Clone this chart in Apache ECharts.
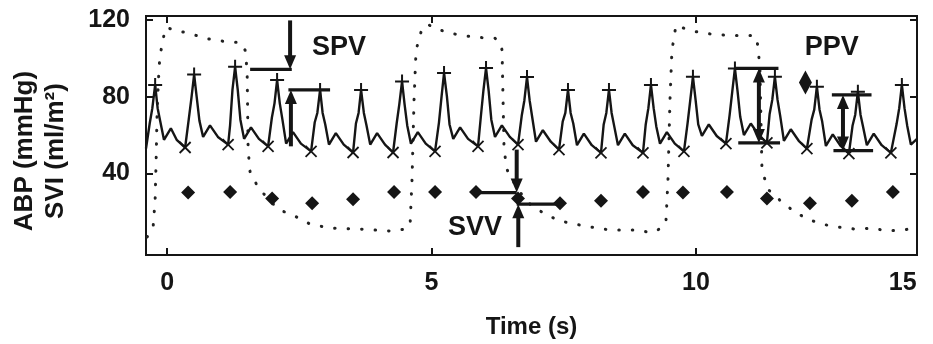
<!DOCTYPE html>
<html>
<head>
<meta charset="utf-8">
<script src="https://cdn.jsdelivr.net/npm/echarts@6/dist/echarts.min.js"></script>
<style>
  html, body { margin: 0; padding: 0; background: #fff; }
  #chart { width: 933px; height: 344px; }
</style>
</head>
<body>
<div id="chart"></div>
<script>
// Time axis (s) and pressure / SVI axis ranges
const X_MIN = -0.4, X_MAX = 14.18;
const Y_MIN = -2.5, Y_MAX = 122;

// Tick marks and labels
const xTickValues = [0, 5, 10];
const xTickLabels = ['0', '5', '10', '15'];
const xLabelValues = [0, 5, 10, 13.91];
const yTickValues = [40, 80, 120];

// Arterial blood pressure waveform [time s, mmHg]
const abpWave = [
  [-0.40, 53], [-0.33, 66], [-0.28, 74], [-0.227, 86.1], [-0.18, 74], [-0.13, 67], [-0.06, 57.5], [0.07, 63.5], [0.18, 57.5], [0.34, 53.5],
  [0.41, 68.5], [0.46, 79.5], [0.51, 91.5], [0.56, 79.5], [0.61, 67.5], [0.68, 59], [0.81, 65], [0.96, 59], [1.153, 55],
  [1.19, 65], [1.235, 83.5], [1.285, 95.5], [1.335, 83.5], [1.385, 68], [1.455, 58], [1.585, 64], [1.735, 58], [1.909, 54.1],
  [1.98, 69], [2.03, 76.5], [2.079, 88.6], [2.13, 76.5], [2.18, 68], [2.25, 55.5], [2.38, 61.5], [2.53, 55.5], [2.722, 51.5],
  [2.79, 66.5], [2.84, 71.5], [2.892, 83.5], [2.94, 71.5], [2.99, 65.5], [3.06, 55], [3.19, 61], [3.34, 55], [3.516, 50.9],
  [3.57, 66], [3.62, 71.5], [3.667, 83.5], [3.72, 71.5], [3.77, 65], [3.84, 55], [3.97, 61], [4.12, 55], [4.272, 50.9],
  [4.34, 66], [4.39, 76], [4.442, 87.9], [4.49, 76], [4.54, 65], [4.61, 55.5], [4.74, 61.5], [4.89, 55.5], [5.066, 51.5],
  [5.14, 66.5], [5.19, 80.3], [5.236, 92.3], [5.29, 80.3], [5.34, 65.5], [5.41, 58], [5.54, 64], [5.69, 58], [5.879, 54.1],
  [5.93, 69], [5.98, 83], [6.03, 94.9], [6.08, 83], [6.13, 68], [6.20, 59], [6.33, 65], [6.48, 59], [6.635, 55],
  [6.705, 70], [6.755, 78], [6.805, 90.2], [6.855, 78], [6.905, 69], [6.975, 56.5], [7.105, 62.5], [7.255, 56.5], [7.41, 52.4],
  [7.48, 67], [7.53, 71.5], [7.58, 83.5], [7.63, 71.5], [7.68, 66], [7.75, 54.7], [7.88, 60.7], [8.03, 54.7], [8.204, 50.7],
  [8.255, 65.5], [8.305, 71.5], [8.355, 83.5], [8.405, 71.5], [8.455, 64.5], [8.525, 54.7], [8.655, 60.7], [8.805, 54.7], [8.998, 50.7],
  [9.05, 65.5], [9.10, 74], [9.149, 86.1], [9.20, 74], [9.25, 64.5], [9.32, 55.5], [9.45, 61.5], [9.60, 55.5], [9.773, 51.5],
  [9.843, 66.5], [9.893, 78.3], [9.943, 90.3], [9.993, 78.3], [10.043, 65.5], [10.113, 59.5], [10.243, 65.5], [10.393, 59.5], [10.567, 55.5],
  [10.637, 70.5], [10.687, 82.7], [10.737, 94.7], [10.787, 82.7], [10.837, 69.5], [10.907, 60], [11.037, 66], [11.187, 60], [11.342, 55.9],
  [11.393, 71], [11.443, 78.3], [11.493, 90.3], [11.543, 78.3], [11.593, 70], [11.663, 57], [11.793, 63], [11.943, 57], [12.098, 52.9],
  [12.187, 68], [12.237, 73.2], [12.287, 85.2], [12.337, 73.2], [12.387, 67], [12.457, 54.3], [12.587, 60.3], [12.737, 54.3], [12.892, 50.3],
  [12.962, 65], [13.012, 70.6], [13.062, 82.6], [13.112, 70.6], [13.162, 64], [13.232, 54.7], [13.362, 60.7], [13.512, 54.7], [13.686, 50.7],
  [13.794, 65.7], [13.844, 74], [13.894, 86.1], [13.944, 74], [13.994, 65], [14.064, 55], [14.18, 58]
];

// Beat-by-beat systolic peaks (+) and diastolic troughs (x)
const peakTime  = [-0.227, 0.51, 1.285, 2.079, 2.892, 3.667, 4.442, 5.236, 6.03, 6.805, 7.58, 8.355, 9.149, 9.943, 10.737, 11.493, 12.287, 13.062, 13.894];
const peakValue = [86.1, 91.5, 95.5, 88.6, 83.5, 83.5, 87.9, 92.3, 94.9, 90.2, 83.5, 83.5, 86.1, 90.3, 94.7, 90.3, 85.2, 82.6, 86.1];
const troughTime  = [0.34, 1.153, 1.909, 2.722, 3.516, 4.272, 5.066, 5.879, 6.635, 7.41, 8.204, 8.998, 9.773, 10.567, 11.342, 12.098, 12.892, 13.686];
const troughValue = [53.5, 55, 54.1, 51.5, 50.9, 50.9, 51.5, 54.1, 55, 52.4, 50.7, 50.7, 51.5, 55.5, 55.9, 52.9, 50.3, 50.7];

// Stroke volume index per beat (diamonds)
const sviTime  = [0.397, 1.191, 1.985, 2.741, 3.516, 4.291, 5.066, 5.841, 6.635, 7.429, 8.204, 8.998, 9.754, 10.586, 11.342, 12.155, 12.949, 13.724];
const sviValue = [30.0, 30.3, 26.9, 24.5, 26.5, 30.3, 30.3, 30.3, 26.9, 24.5, 25.7, 30.3, 30.0, 30.3, 26.9, 24.5, 25.7, 30.3];

// Single marker beside the PPV label
const extraMarkTime = [12.07];
const extraMarkValue = [87.3];

// Slow ventilation-driven wave (dotted)
const ventWave = [
  [-0.378, 6.9], [-0.265, 12.1], [-0.227, 26.5], [-0.208, 47.3], [-0.189, 73.1], [-0.151, 96.4], [-0.095, 108.3], [-0.019, 116.1],
  [0.151, 114.5], [0.435, 112.9], [0.718, 110.3], [1.191, 108.3], [1.380, 108.3], [1.474, 104.2], [1.512, 93.8], [1.531, 52.4],
  [1.569, 40.5], [1.720, 32.8], [1.947, 25.5], [2.136, 20.9], [2.420, 17.7], [2.703, 13.6], [3.081, 11.5], [3.648, 11.0],
  [4.216, 10.0], [4.499, 11.0], [4.594, 13.1], [4.631, 36.9], [4.669, 78.3], [4.707, 104.2], [4.820, 115.6], [4.934, 117.6],
  [5.066, 115.6], [5.350, 113.0], [5.822, 110.9], [6.200, 110.4], [6.295, 108.3], [6.333, 104.2], [6.371, 52.4], [6.427, 42.0],
  [6.522, 36.9], [6.673, 30.2], [6.862, 24.0], [7.146, 18.8], [7.429, 15.2], [7.902, 12.6], [8.374, 10.5], [8.941, 10.5],
  [9.130, 9.0], [9.357, 11.5], [9.433, 15.2], [9.471, 36.9], [9.509, 78.3], [9.546, 104.2], [9.622, 117.1], [9.887, 114.5],
  [10.170, 112.9], [10.643, 111.8], [11.115, 111.8], [11.172, 106.6], [11.210, 93.8], [11.248, 42.0], [11.361, 31.7], [11.588, 26.0],
  [11.871, 19.8], [12.155, 15.7], [12.533, 12.6], [13.006, 11.0], [13.384, 11.5], [13.573, 10.0], [13.951, 10.5], [14.178, 12.6]
];

// Variation annotations: [x1, y1, x2, y2, head at start, head at end]
const spvMarks = [
  [1.569, 94.2, 2.357, 94.2, 0, 0],
  [2.325, 119.7, 2.325, 94.2, 0, 1],
  [2.293, 83.5, 3.081, 83.5, 0, 0],
  [2.34, 54.1, 2.34, 83.5, 0, 1]
];
const svvMarks = [
  [5.82, 30.0, 6.61, 30.0, 0, 0],
  [6.61, 52.4, 6.61, 30.0, 0, 1],
  [6.61, 24.0, 7.49, 24.0, 0, 0],
  [6.64, 1.6, 6.64, 24.0, 0, 1]
];
const ppvMarks = [
  [10.74, 94.7, 11.56, 94.7, 0, 0],
  [10.80, 55.9, 11.59, 55.9, 0, 0],
  [11.19, 55.9, 11.19, 94.7, 1, 1],
  [12.57, 80.9, 13.32, 80.9, 0, 0],
  [12.60, 51.9, 13.35, 51.9, 0, 0],
  [12.78, 51.9, 12.78, 80.9, 1, 1]
];
const noteText = ['SPV', 'SVV', 'PPV'];
const noteTime = [3.25, 5.82, 12.57];
const noteValue = [105.7, 11.6, 105.7];

const INK = '#151515';
const FONT = '"Liberation Sans", Arial, Helvetica, sans-serif';

const zip = (a, b) => a.map((v, i) => [v, b[i]]);

function renderArrow(params, api) {
  const p1 = api.coord([api.value(0), api.value(1)]);
  const p2 = api.coord([api.value(2), api.value(3)]);
  const headStart = api.value(4), headEnd = api.value(5);
  const dx = p2[0] - p1[0], dy = p2[1] - p1[1];
  const len = Math.sqrt(dx * dx + dy * dy) || 1;
  const ux = dx / len, uy = dy / len;
  const nx = -uy, ny = ux;
  const HL = 14, HW = 12;
  const children = [];
  let a = p1.slice(), b = p2.slice();
  const head = (tip, sx, sy) => {
    const bx = tip[0] - sx * HL, by = tip[1] - sy * HL;
    children.push({
      type: 'polygon',
      shape: { points: [tip, [bx + nx * HW / 2, by + ny * HW / 2], [bx - nx * HW / 2, by - ny * HW / 2]] },
      style: { fill: INK }
    });
    return [bx + sx * 2, by + sy * 2];
  };
  if (headEnd) b = head(p2, ux, uy);
  if (headStart) a = head(p1, -ux, -uy);
  children.push({
    type: 'line',
    shape: { x1: a[0], y1: a[1], x2: b[0], y2: b[1] },
    style: { stroke: INK, lineWidth: (dx === 0) ? 4 : 3.2 }
  });
  return { type: 'group', children };
}

const chart = echarts.init(document.getElementById('chart'), null, { renderer: 'canvas' });

const tickStyle = { show: true, inside: true, length: 7, lineStyle: { color: INK, width: 2 } };
const hiddenLine = { show: false, onZero: false };

chart.setOption({
  animation: false,
  backgroundColor: '#fff',
  grid: { left: 146, right: 16, top: 16, bottom: 88, show: true, borderColor: INK, borderWidth: 2, backgroundColor: 'transparent' },
  xAxis: [
    {
      type: 'value', min: X_MIN, max: X_MAX, position: 'bottom',
      axisLine: hiddenLine,
      axisTick: Object.assign({ customValues: xTickValues }, tickStyle),
      splitLine: { show: false },
      axisLabel: {
        customValues: xLabelValues,
        formatter: (v) => xTickLabels[xLabelValues.indexOf(v)],
        color: INK, fontFamily: FONT, fontWeight: 'bold', fontSize: 25, margin: 16
      },
      name: 'Time (s)', nameLocation: 'middle', nameGap: 60,
      nameTextStyle: { color: INK, fontFamily: FONT, fontWeight: 'bold', fontSize: 24 }
    },
    {
      type: 'value', min: X_MIN, max: X_MAX, position: 'top',
      axisLine: hiddenLine,
      axisTick: Object.assign({ customValues: xTickValues }, tickStyle),
      splitLine: { show: false }, axisLabel: { show: false }
    }
  ],
  yAxis: [
    {
      type: 'value', min: Y_MIN, max: Y_MAX, position: 'left',
      axisLine: hiddenLine,
      axisTick: Object.assign({ customValues: yTickValues }, tickStyle),
      splitLine: { show: false },
      axisLabel: {
        customValues: yTickValues,
        color: INK, fontFamily: FONT, fontWeight: 'bold', fontSize: 25, margin: 16
      }
    },
    {
      type: 'value', min: Y_MIN, max: Y_MAX, position: 'right',
      axisLine: hiddenLine,
      axisTick: Object.assign({ customValues: yTickValues }, tickStyle),
      splitLine: { show: false }, axisLabel: { show: false }
    }
  ],
  graphic: [{
    type: 'text', x: 40, y: 151, rotation: Math.PI / 2,
    style: {
      text: 'ABP (mmHg)\nSVI (ml/m²)', fill: INK,
      font: 'bold 26px ' + FONT, align: 'center', verticalAlign: 'middle', lineHeight: 31
    }
  }],
  series: [
    {
      name: 'Ventilation', type: 'line', data: ventWave, showSymbol: false, silent: true, z: 1,
      lineStyle: { color: '#222', width: 3, type: [0.5, 13], cap: 'round' }
    },
    {
      name: 'ABP', type: 'line', data: abpWave, showSymbol: false, silent: true, z: 2,
      lineStyle: { color: INK, width: 2.4 }
    },
    {
      name: 'Systolic', type: 'scatter', data: zip(peakTime, peakValue), z: 3,
      symbol: 'path://M0,50L100,50M50,0L50,100', symbolSize: 14,
      itemStyle: { color: 'transparent', borderColor: INK, borderWidth: 2, opacity: 1 }
    },
    {
      name: 'Diastolic', type: 'scatter', data: zip(troughTime, troughValue), z: 3,
      symbol: 'path://M0,0L100,100M100,0L0,100', symbolSize: 11,
      itemStyle: { color: 'transparent', borderColor: INK, borderWidth: 1.8, opacity: 1 }
    },
    {
      name: 'SVI', type: 'scatter', data: zip(sviTime, sviValue), z: 3,
      symbol: 'diamond', symbolSize: 14, itemStyle: { color: INK, opacity: 1 }
    },
    {
      name: 'Marker', type: 'scatter', data: zip(extraMarkTime, extraMarkValue), z: 3,
      symbol: 'diamond', symbolSize: [13, 24], itemStyle: { color: INK, opacity: 1 }
    },
    {
      name: 'Variation arrows', type: 'custom', z: 4, silent: true,
      data: spvMarks.concat(svvMarks, ppvMarks),
      renderItem: renderArrow
    },
    {
      name: 'Variation labels', type: 'custom', z: 5, silent: true,
      data: zip(noteTime, noteValue),
      renderItem: (params, api) => {
        const p = api.coord([api.value(0), api.value(1)]);
        return {
          type: 'text', x: p[0], y: p[1],
          style: { text: noteText[params.dataIndex], fill: INK, font: 'bold 27px ' + FONT, align: 'center', verticalAlign: 'middle' }
        };
      }
    }
  ]
});
</script>
</body>
</html>
